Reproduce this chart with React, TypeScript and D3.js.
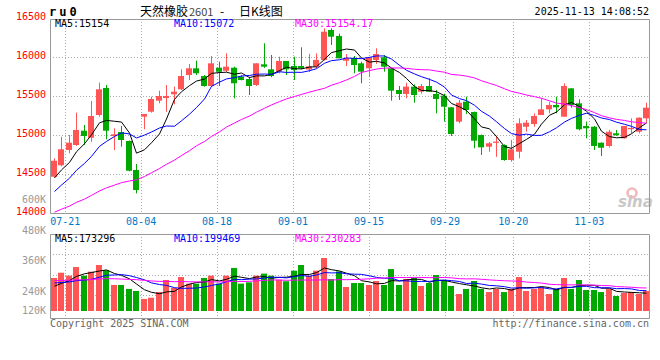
import React, { useEffect, useRef } from 'react';
import * as d3 from 'd3';

// trading days shown on the chart (07-17 .. 11-13)
const dates = [
  '07-17', '07-18',
  '07-21', '07-22', '07-23', '07-24', '07-25',
  '07-28', '07-29', '07-30', '07-31', '08-01',
  '08-04', '08-05', '08-06', '08-07', '08-08',
  '08-11', '08-12', '08-13', '08-14', '08-15',
  '08-18', '08-19', '08-20', '08-21', '08-22',
  '08-25', '08-26', '08-27', '08-28', '08-29',
  '09-01', '09-02', '09-03', '09-04', '09-05',
  '09-08', '09-09', '09-10', '09-11', '09-12',
  '09-15', '09-16', '09-17', '09-18', '09-19',
  '09-22', '09-23', '09-24', '09-25', '09-26',
  '09-29', '09-30',
  '10-09', '10-10',
  '10-13', '10-14', '10-15', '10-16', '10-17',
  '10-20', '10-21', '10-22', '10-23', '10-24',
  '10-27', '10-28', '10-29', '10-30', '10-31',
  '11-03', '11-04', '11-05', '11-06', '11-07',
  '11-10', '11-11', '11-12', '11-13',
];

const opens = [
  14465, 14612, 14808, 14872, 15055, 14965, 15256, 15603, 14987, 15038,
  14923, 14551, 15235, 15299, 15440, 15474, 15522, 15586, 15769, 15855,
  15756, 15628, 15863, 15824, 15863, 15747, 15718, 15641, 15906, 15842,
  15812, 15949, 15885, 15885, 15840, 15876, 15962, 16346, 16270, 15952,
  15983, 15919, 15855, 15962, 15996, 15855, 15577, 15526, 15620, 15555,
  15628, 15526, 15504, 15355, 15171, 15427, 15295, 15000, 14850, 14900,
  14872, 14679, 14786, 15106, 15141, 15256, 15329, 15385, 15235, 15598,
  15406, 15115, 15106, 14901, 14859, 15022, 14958, 15080, 15042, 15214,
];
const closes = [
  14670, 14817, 14901, 15064, 14987, 15244, 15586, 15055, 15009, 14936,
  14542, 14295, 15269, 15462, 15500, 15500, 15555, 15756, 15855, 15791,
  15628, 15919, 15811, 15876, 15663, 15705, 15628, 15919, 15876, 15756,
  15949, 15842, 15833, 15855, 15880, 15962, 16324, 16260, 15983, 15983,
  15897, 15812, 15996, 16038, 15876, 15568, 15526, 15620, 15513, 15628,
  15555, 15462, 15363, 15013, 15414, 15320, 14927, 14842, 14894, 14915,
  14679, 14817, 15150, 15158, 15244, 15329, 15385, 15355, 15628, 15385,
  15073, 15086, 14859, 14837, 15042, 14996, 15115, 15090, 15222, 15350,
];
const highs = [
  14701, 14978, 15000, 15286, 15128, 15436, 15671, 15641, 15086, 15115,
  14930, 14628, 15269, 15491, 15568, 15641, 15620, 15842, 15910, 15953,
  15770, 16013, 15940, 16047, 15876, 15769, 15747, 15919, 16176, 16026,
  16004, 15949, 16004, 16124, 16040, 16047, 16368, 16368, 16300, 16038,
  16013, 15940, 16000, 16111, 16026, 15860, 15628, 15671, 15650, 15654,
  15727, 15577, 15530, 15360, 15449, 15491, 15300, 15005, 14910, 14990,
  14880, 14936, 15214, 15192, 15278, 15470, 15427, 15491, 15663, 15600,
  15457, 15171, 15115, 14905, 15064, 15064, 15115, 15214, 15225, 15414,
];
const lows = [
  14458, 14600, 14765, 14860, 14872, 14914, 15235, 14945, 14808, 14850,
  14535, 14252, 15073, 15286, 15406, 15299, 15393, 15577, 15705, 15769,
  15620, 15620, 15628, 15808, 15470, 15700, 15513, 15628, 15860, 15740,
  15790, 15769, 15705, 15842, 15808, 15855, 15955, 16154, 15983, 15885,
  15791, 15663, 15740, 15910, 15812, 15440, 15449, 15470, 15414, 15530,
  15550, 15278, 15171, 14987, 15150, 15270, 14830, 14744, 14786, 14720,
  14670, 14658, 14701, 15042, 15106, 15256, 15278, 15278, 15230, 15350,
  15060, 14958, 14808, 14730, 14840, 14990, 14955, 15022, 15022, 15158,
];
// volume, thousand lots
const volumes = [
  326, 378, 349, 434, 349, 388, 454, 402, 257, 257,
  218, 198, 119, 131, 187, 306, 227, 335, 270, 270,
  326, 349, 270, 349, 425, 270, 283, 349, 369, 349,
  309, 294, 398, 454, 349, 398, 523, 315, 391, 237,
  276, 276, 257, 296, 257, 414, 257, 315, 326, 247,
  276, 355, 306, 247, 168, 218, 296, 218, 187, 218,
  187, 218, 335, 198, 218, 237, 168, 218, 326, 218,
  306, 207, 207, 187, 218, 148, 178, 187, 168, 198,
];

// sessions before the visible window, needed for the moving averages
const priorCloses = [
  13650, 13700, 13620, 13750, 13800, 13900, 13850, 13950, 14000, 13900,
  13880, 13950, 14020, 13900, 13850, 13950, 14000, 13980, 13920, 13970,
  13990, 14020, 14050, 14100, 14350, 14300, 14420, 14380, 14475,
];
const priorVolumes = [
  330, 290, 310, 345, 280, 300, 325, 295, 340, 310,
  285, 320, 305, 330, 290, 315, 300, 335, 310, 325,
  320, 295, 310, 300, 310, 240, 210, 230, 219,
];

const priceTicks = [16500, 16000, 15500, 15000, 14500, 14000];
const volumeTicks = [600, 480, 360, 240, 120];
const dateTicks = ['07-21', '08-04', '08-18', '09-01', '09-15', '09-29', '10-20', '11-03'];
const maPeriods = [5, 10, 30];
const maColors = ['#000000', '#0000ff', '#ff00ff'];
const priceMaLabels = ['MA5:15154', 'MA10:15072', 'MA30:15154.17'];
const volumeMaLabels = ['MA5:173296', 'MA10:199469', 'MA30:230283'];

const RED = '#ff5555';
const GREEN = '#00a800';
const MONO = '"DejaVu Sans Mono", "Liberation Mono", monospace';

const movingAverage = (prior: number[], values: number[], n: number) => {
  const all = [...prior, ...values];
  return values.map((_, i) => d3.mean(all.slice(prior.length + i - n + 1, prior.length + i + 1)) as number);
};

const KLineChart: React.FC = () => {
  const svgRef = useRef<SVGSVGElement>(null);

  useEffect(() => {
    if (!svgRef.current) return;
    const svg = d3.select(svgRef.current);
    svg.selectAll('*').remove();

    const left = 50, right = 650;
    const mainTop = 19, mainBottom = 213;
    const volTop = 234, volBottom = 318, volBase = 311;

    const x = d3.scaleBand<number>().domain(d3.range(dates.length)).range([left, right]);
    const gridX = d3.scaleLinear().domain([0, dates.length - 1]).range([left, right]);
    const y = d3.scaleLinear().domain([14000, 16500]).range([mainBottom, 18]);
    const yVol = d3.scaleLinear().domain([0, 760]).range([volBase, volTop]);
    const yVolLabel = d3.scaleLinear().domain([0, 600]).range([353, 200]);

    const bodyLeft = (i: number) => Math.round((x(i) as number) + 0.75);
    const cx = (i: number) => bodyLeft(i) + 3.5;

    const defs = svg.append('defs');
    defs.append('clipPath').attr('id', 'main-clip')
      .append('rect').attr('x', left).attr('y', mainTop).attr('width', right - left).attr('height', mainBottom - mainTop);
    defs.append('clipPath').attr('id', 'vol-clip')
      .append('rect').attr('x', left).attr('y', volTop).attr('width', right - left).attr('height', volBottom - volTop);

    // Grid
    const grid = svg.append('g')
      .attr('stroke', '#aaaaaa').attr('stroke-dasharray', '1,2').attr('stroke-width', 1);
    grid.selectAll('line.h')
      .data(priceTicks.filter(t => t > 14000 && t < 16500))
      .enter().append('line')
      .attr('x1', left).attr('x2', right)
      .attr('y1', d => Math.round(y(d)) + 0.5).attr('y2', d => Math.round(y(d)) + 0.5);
    grid.selectAll('line.hv')
      .data([1, 2, 3])
      .enter().append('line')
      .attr('x1', left).attr('x2', right)
      .attr('y1', d => Math.round(volTop + d * 20.25) + 0.5)
      .attr('y2', d => Math.round(volTop + d * 20.25) + 0.5);
    dateTicks.forEach(t => {
      const gx = Math.round(gridX(dates.indexOf(t))) + 0.5;
      grid.append('line').attr('x1', gx).attr('x2', gx).attr('y1', mainTop).attr('y2', mainBottom);
      grid.append('line').attr('x1', gx).attr('x2', gx).attr('y1', volTop).attr('y2', volBottom);
    });

    // Watermark
    svg.append('circle').attr('cx', 632).attr('cy', 193).attr('r', 4.5)
      .attr('fill', 'none').attr('stroke', '#f2b8b8').attr('stroke-width', 2.5);
    svg.append('text').attr('x', 618).attr('y', 207)
      .attr('font-family', 'Verdana, "DejaVu Sans", sans-serif').attr('font-size', 15)
      .attr('font-weight', 'bold').attr('font-style', 'italic').attr('fill', '#c8c8c8')
      .text('sina');

    // Candles
    const candles = svg.append('g').attr('clip-path', 'url(#main-clip)');
    const idx = d3.range(dates.length);
    const colorOf = (i: number) => (closes[i] >= opens[i] ? RED : GREEN);

    candles.selectAll('line.wick')
      .data(idx)
      .enter().append('line')
      .attr('x1', cx).attr('x2', cx)
      .attr('y1', i => y(highs[i])).attr('y2', i => y(lows[i]))
      .attr('stroke', colorOf).attr('stroke-width', 1);

    candles.selectAll('rect.body')
      .data(idx)
      .enter().append('rect')
      .attr('x', bodyLeft)
      .attr('width', 6)
      .attr('y', i => y(Math.max(opens[i], closes[i])))
      .attr('height', i => Math.max(1.2, Math.abs(y(opens[i]) - y(closes[i]))))
      .attr('fill', colorOf);

    // Price moving averages
    maPeriods.forEach((n, k) => {
      const ma = movingAverage(priorCloses, closes, n);
      const line = d3.line<number>().x(i => cx(i)).y(i => y(ma[i]));
      candles.append('path').attr('d', line(idx) as string)
        .attr('fill', 'none').attr('stroke', maColors[k]).attr('stroke-width', 1);
    });

    // Volume bars
    const vol = svg.append('g').attr('clip-path', 'url(#vol-clip)');
    vol.selectAll('rect')
      .data(idx)
      .enter().append('rect')
      .attr('x', bodyLeft)
      .attr('width', 6)
      .attr('y', i => yVol(volumes[i]))
      .attr('height', i => volBase - yVol(volumes[i]))
      .attr('fill', colorOf);

    maPeriods.forEach((n, k) => {
      const ma = movingAverage(priorVolumes, volumes, n);
      const line = d3.line<number>().x(i => cx(i)).y(i => yVol(ma[i]));
      vol.append('path').attr('d', line(idx) as string)
        .attr('fill', 'none').attr('stroke', maColors[k]).attr('stroke-width', 1);
    });

    // Frames
    const frame = svg.append('g').attr('fill', 'none').attr('stroke', '#999999').attr('stroke-width', 1);
    frame.append('path')
      .attr('d', `M${left + 0.5},${mainTop + 0.5}H${right - 0.5}V${mainBottom + 0.5}H${left + 0.5}Z`);
    frame.append('path')
      .attr('d', `M${left + 0.5},${volTop + 0.5}H${right - 0.5}V${volBottom + 0.5}H${left + 0.5}Z`);

    // Axis labels
    svg.append('g')
      .selectAll('text')
      .data(priceTicks)
      .enter().append('text')
      .attr('x', 46).attr('y', d => y(d) - 1)
      .attr('dominant-baseline', 'middle')
      .attr('text-anchor', 'end')
      .attr('font-family', MONO).attr('font-size', 10).attr('fill', '#ff0000')
      .text(d => d);

    svg.append('g')
      .selectAll('text')
      .data(volumeTicks)
      .enter().append('text')
      .attr('x', 46).attr('y', d => Math.min(311, yVolLabel(d)))
      .attr('dominant-baseline', 'middle')
      .attr('text-anchor', 'end')
      .attr('font-family', MONO).attr('font-size', 10).attr('fill', '#999999')
      .text(d => `${d}K`);

    svg.append('g')
      .selectAll('text')
      .data(dateTicks)
      .enter().append('text')
      .attr('x', d => gridX(dates.indexOf(d)))
      .attr('y', 222)
      .attr('dominant-baseline', 'middle')
      .attr('text-anchor', 'middle')
      .attr('font-family', MONO).attr('font-size', 10).attr('fill', '#0078c8')
      .text(d => d);

    // MA legends
    const legendX = [55, 174, 295];
    [[priceMaLabels, 24], [volumeMaLabels, 238.5]].forEach(([labels, ly]) => {
      (labels as string[]).forEach((t, k) => {
        svg.append('text')
          .attr('x', legendX[k]).attr('y', ly as number)
          .attr('dominant-baseline', 'middle')
          .attr('font-family', MONO).attr('font-size', 10).attr('fill', maColors[k])
          .text(t);
      });
    });

    // Header
    svg.append('text').attr('x', 49).attr('y', 16)
      .attr('font-family', MONO).attr('font-size', 12).attr('font-weight', 'bold')
      .attr('letter-spacing', 3).attr('fill', '#000')
      .text('ru0');

    const title = svg.append('text').attr('y', 15.5)
      .attr('font-family', '"Noto Sans CJK SC", sans-serif').attr('font-size', 12).attr('fill', '#000');
    title.append('tspan').attr('x', 140).text('天然橡胶');
    title.append('tspan').attr('x', 189).attr('fill', '#444').attr('font-size', 11).text('2601');
    title.append('tspan').attr('x', 220).text('-');
    title.append('tspan').attr('x', 239).text('日K线图');

    svg.append('text').attr('x', 649).attr('y', 12)
      .attr('dominant-baseline', 'middle').attr('text-anchor', 'end')
      .attr('font-family', MONO).attr('font-size', 10).attr('fill', '#000')
      .text('2025-11-13 14:08:52');

    // Footer
    svg.append('text').attr('x', 50).attr('y', 323.5)
      .attr('dominant-baseline', 'middle')
      .attr('font-family', MONO).attr('font-size', 10).attr('fill', '#666')
      .text('Copyright 2025 SINA.COM');
    svg.append('text').attr('x', 649).attr('y', 323.5)
      .attr('dominant-baseline', 'middle').attr('text-anchor', 'end')
      .attr('font-family', MONO).attr('font-size', 10).attr('fill', '#666')
      .text('http://finance.sina.com.cn');
  }, []);

  return (
    <svg
      ref={svgRef}
      width={660}
      height={360}
      style={{ position: 'absolute', left: 0, top: 0, background: '#fff' }}
    />
  );
};

export default function App() {
  return <KLineChart />;
}
